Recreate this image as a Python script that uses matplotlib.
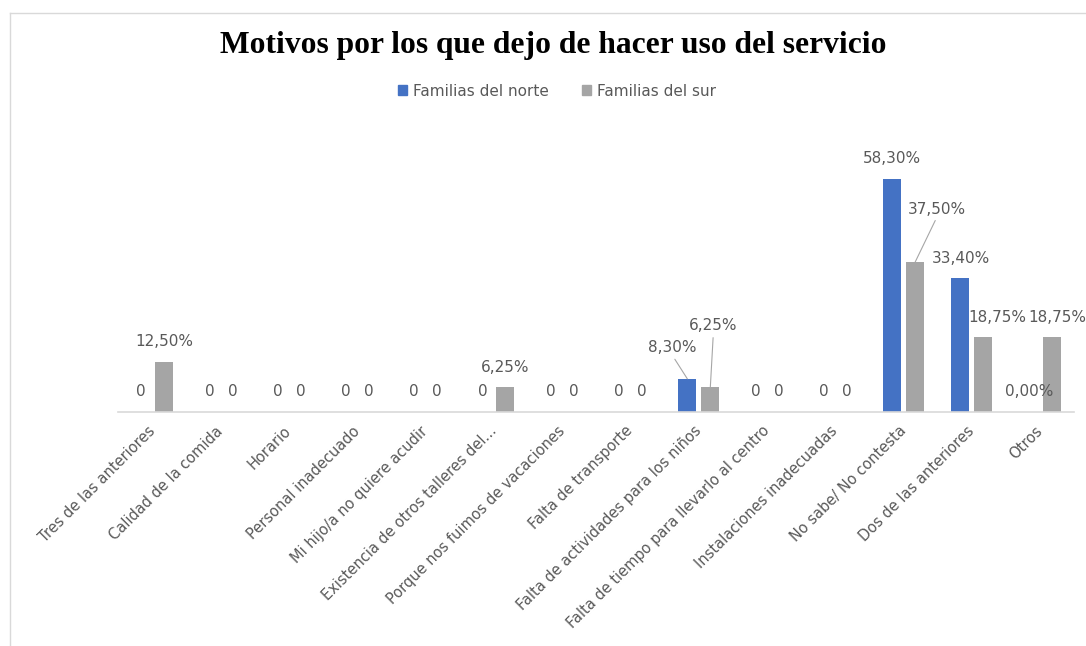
import matplotlib
matplotlib.use("Agg")
import matplotlib.pyplot as plt
from matplotlib.patches import Patch
import numpy as np

# Chart data
categories = [
    "Tres de las anteriores", "Calidad de la comida", "Horario",
    "Personal inadecuado", "Mi hijo/a no quiere acudir",
    "Existencia de otros talleres del...", "Porque nos fuimos de vacaciones",
    "Falta de transporte", "Falta de actividades para los niños",
    "Falta de tiempo para llevarlo al centro", "Instalaciones inadecuadas",
    "No sabe/ No contesta", "Dos de las anteriores", "Otros",
]
north = [0, 0, 0, 0, 0, 0, 0, 0, 8.3, 0, 0, 58.3, 33.4, 0]
south = [12.5, 0, 0, 0, 0, 6.25, 0, 0, 6.25, 0, 0, 37.5, 18.75, 18.75]
north_labels = ["0", "0", "0", "0", "0", "0", "0", "0", "8,30%", "0", "0",
                "58,30%", "33,40%", "0,00%"]
south_labels = ["12,50%", "0", "0", "0", "0", "6,25%", "0", "0", "6,25%", "0", "0",
                "37,50%", "18,75%", "18,75%"]
series_names = ["Familias del norte", "Familias del sur"]

# label offsets in pixels (dx, dy) from bar top; default (0, 20)
north_shift = {8: (-15, 31)}
south_shift = {8: (3, 61), 11: (22, 53), 12: (14, 19), 13: (6, 19)}
leaders_north = [8]
leaders_south = [8, 11]

BLUE = "#4472C4"
GRAY = "#A5A5A5"
TXT = "#595959"

fig = plt.figure(figsize=(10.86, 6.46), dpi=100)
ax = fig.add_axes([118.4 / 1086, 1 - 412 / 646, 956 / 1086, 280 / 646])

x = np.arange(len(categories))
off, w = 0.1685, 0.264
ax.bar(x - off, north, w, color=BLUE, label=series_names[0])
ax.bar(x + off, south, w, color=GRAY, label=series_names[1])

ax.set_xlim(-0.5, len(categories) - 0.5)
ax.set_ylim(0, 70)
ax.set_yticks([])
for s in ["top", "right", "left"]:
    ax.spines[s].set_visible(False)
ax.spines["bottom"].set_color("#d9d9d9")
ax.spines["bottom"].set_linewidth(1.2)

ax.set_xticks(x)
ax.set_xticklabels(categories, rotation=45, ha="right", va="center",
                   rotation_mode="anchor", fontsize=10.5, color=TXT)
ax.tick_params(axis="x", length=0, pad=12)


def add_labels(xs, vals, texts, shifts, leaders):
    for i, (xi, v, t) in enumerate(zip(xs, vals, texts)):
        dx, dy = shifts.get(i, (0, 20))
        kw = {}
        if i in leaders:
            kw["arrowprops"] = dict(arrowstyle="-", color="#a6a6a6", lw=0.8,
                                    shrinkA=1, shrinkB=0, relpos=(0.5, 0))
        ax.annotate(t, (xi, v), xytext=(dx, dy), textcoords="offset pixels",
                    ha="center", va="center", fontsize=11, color=TXT,
                    annotation_clip=False, **kw)


add_labels(x - off, north, north_labels, north_shift, leaders_north)
add_labels(x + off, south, south_labels, south_shift, leaders_south)

fig.text(553 / 1086, 1 - 45 / 646, "Motivos por los que dejo de hacer uso del servicio",
         ha="center", va="center", fontsize=22.7, fontweight="bold",
         family="Liberation Serif", color="black")

handles = [Patch(color=BLUE), Patch(color=GRAY)]
fig.legend(handles, series_names, loc="center", bbox_to_anchor=(557 / 1086, 1 - 91 / 646),
           ncol=2, frameon=False, fontsize=11, labelcolor=TXT,
           handlelength=0.55, handleheight=0.55, handletextpad=0.4, columnspacing=2.2)

# light chart border (left and top edges visible)
fig.add_artist(plt.Line2D([10 / 1086, 10 / 1086], [0, 1 - 13 / 646],
                          transform=fig.transFigure, color="#d9d9d9", lw=1))
fig.add_artist(plt.Line2D([10 / 1086, 1], [1 - 13 / 646, 1 - 13 / 646],
                          transform=fig.transFigure, color="#d9d9d9", lw=1))

fig.savefig("out.png", dpi=100)
